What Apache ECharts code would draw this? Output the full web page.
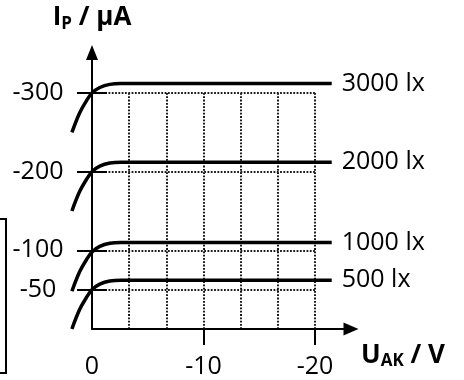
<!DOCTYPE html>
<html>
<head>
<meta charset="utf-8">
<script src="https://cdn.jsdelivr.net/npm/echarts@6/dist/echarts.min.js"></script>
<style>
  html, body { margin: 0; padding: 0; background: #fff; }
  #chart { width: 464px; height: 380px; }
</style>
</head>
<body>
<div id="chart"></div>
<script>
// U_AK in volts, I_P in microamps
const xTicks = [0, -10, -20]
const xTickMarks = [-10, -20]
const yTicks = [-300, -200, -100, -50]
const uValues = [1.8, 1.1, 0.5, 0, -0.7, -1.6, -2.6, -21.5]
const i3000 = [-250, -275, -290, -300, -307, -311, -312, -312]
const i2000 = [-150, -175, -190, -200, -207, -211, -212, -212]
const i1000 = [-48, -73, -88, -98, -105, -109, -110, -110]
const i500 = [0, -25, -40, -50, -57, -61, -62, -62]
const names = ['3000 lx', '2000 lx', '1000 lx', '500 lx']
const curves = [i3000, i2000, i1000, i500]

const font = 'Open Sans'
let myChart = echarts.init(document.getElementById('chart'))

const titleStyle = {
  fontSize: 26,
  fontWeight: 'bold',
  fontFamily: font,
  color: '#000',
  rich: {
    m: { fontSize: 26, fontWeight: 'bold', fontFamily: font, color: '#000' },
    s: { fontSize: 17, fontWeight: 'bold', fontFamily: font, color: '#000', padding: [12, 0, 0, 0] }
  }
}
const gridDots = { color: '#1a1a1a', width: 2, type: [1.8, 1.5] }
const hidden = {
  axisLine: { show: false },
  axisTick: { show: false },
  axisLabel: { show: false },
  splitLine: { show: false }
}

let option = {
  animation: false,
  grid: [
    // axes with arrows
    { left: 92, right: 113, top: 52.5, bottom: 51 },
    // dotted grid
    { left: 92, right: 149, top: 93, bottom: 51 },
    // curves (reach a bit left of U = 0)
    { left: 69.7, right: 113, top: 52.5, bottom: 51 }
  ],
  xAxis: [
    {
      gridIndex: 0,
      type: 'value',
      min: -23.23,
      max: 0,
      inverse: true,
      name: '{m|U}{s|AK}{m| / V}',
      nameLocation: 'start',
      nameGap: 10,
      nameTextStyle: Object.assign({ align: 'left', verticalAlign: 'top', padding: [12, 0, 0, 0] }, titleStyle),
      axisLine: {
        symbol: ['none', 'triangle'],
        symbolSize: [13, 15],
        lineStyle: { color: '#000', width: 2 }
      },
      axisTick: { customValues: xTickMarks, length: 16, lineStyle: { color: '#000', width: 2 } },
      axisLabel: { customValues: xTicks, margin: 25, color: '#000', fontSize: 25, fontFamily: font },
      splitLine: { show: false }
    },
    Object.assign({
      gridIndex: 1,
      type: 'value',
      min: -20,
      max: 0,
      interval: 10 / 3,
      inverse: true
    }, hidden, { splitLine: { lineStyle: gridDots } }),
    Object.assign({
      gridIndex: 2,
      type: 'value',
      min: -23.23,
      max: 2,
      inverse: true
    }, hidden)
  ],
  yAxis: [
    {
      gridIndex: 0,
      type: 'value',
      min: -351.5,
      max: 0,
      inverse: true,
      name: '{m|I}{s|P}{m| / µA}',
      nameLocation: 'start',
      nameGap: 20,
      nameTextStyle: Object.assign({ align: 'center' }, titleStyle),
      axisLine: {
        symbol: ['none', 'triangle'],
        symbolSize: [12, 15],
        lineStyle: { color: '#000', width: 2 }
      },
      axisTick: { customValues: yTicks, length: 15, lineStyle: { color: '#000', width: 2 } },
      axisLabel: { customValues: yTicks, margin: 54, align: 'center', color: '#000', fontSize: 25, fontFamily: font },
      splitLine: { show: false }
    },
    Object.assign({
      gridIndex: 1,
      type: 'value',
      min: -300,
      max: 0,
      interval: 50,
      inverse: true
    }, hidden, {
      axisTick: { show: true, inside: true, customValues: yTicks, length: 15, lineStyle: { color: '#000', width: 2 } },
      splitLine: { lineStyle: gridDots }
    }),
    Object.assign({
      gridIndex: 2,
      type: 'value',
      min: -351.5,
      max: 0,
      inverse: true
    }, hidden)
  ],
  graphic: [
    {
      type: 'polyline',
      shape: { points: [[0, 219], [6, 219], [6, 373], [0, 373]] },
      style: { stroke: '#000', lineWidth: 2, fill: null }
    }
  ],
  series: curves.map(function(vals, k) {
    let data = uValues.map(function(u, i) { return [u, vals[i]] })
    // name label sits at the right-hand end of each curve
    data[data.length - 1] = {
      value: data[data.length - 1],
      label: { show: true, position: 'right', distance: 10, formatter: '{a}', color: '#000', fontSize: 25, fontFamily: font }
    }
    return {
      name: names[k],
      type: 'line',
      xAxisIndex: 2,
      yAxisIndex: 2,
      clip: false,
      smooth: 0.4,
      symbol: 'circle',
      symbolSize: 0,
      showSymbol: true,
      lineStyle: { color: '#000', width: 3.5 },
      data: data
    }
  })
}

myChart.setOption(option)
</script>
</body>
</html>
